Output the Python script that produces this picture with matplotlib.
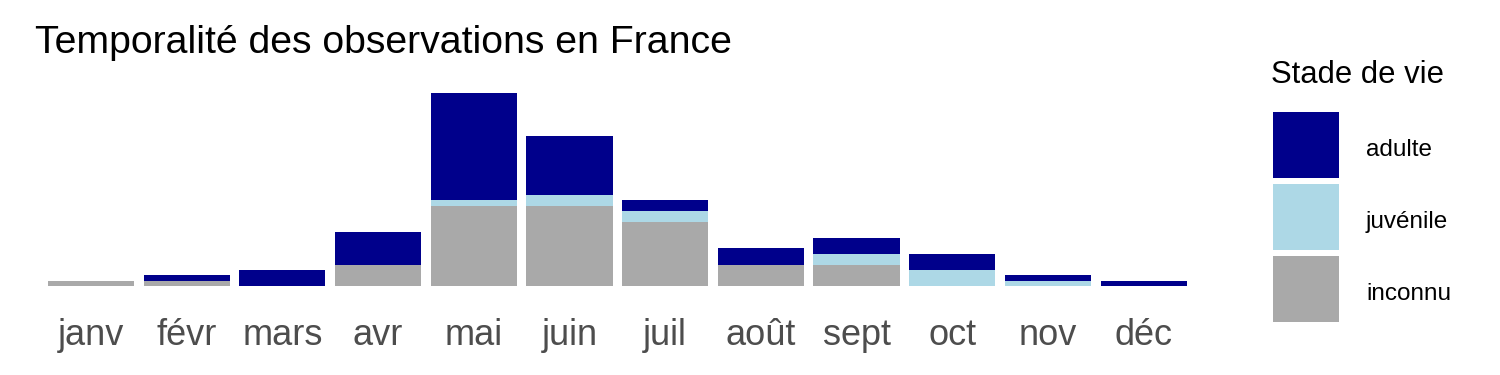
import matplotlib.pyplot as plt
import numpy as np
from matplotlib.patches import Rectangle

plt.rcParams['font.family'] = ['Liberation Sans', 'DejaVu Sans']

mois = ["janv", "févr", "mars", "avr", "mai", "juin", "juil", "août", "sept", "oct", "nov", "déc"]
inconnu = [1, 1, 0, 4, 15, 15, 12, 4, 4, 0, 0, 0]
juvenile = [0, 0, 0, 0, 1, 2, 2, 0, 2, 3, 1, 0]
adulte = [0, 1, 3, 6, 20, 11, 2, 3, 3, 3, 1, 1]

stades = ["adulte", "juvénile", "inconnu"]
couleurs = {"adulte": "#00008B", "juvénile": "#ADD8E6", "inconnu": "#A9A9A9"}

fig = plt.figure(figsize=(15, 3.75), dpi=100)
ax = fig.add_axes([33.6 / 1500, 1 - 295.6 / 375, (1201 - 33.6) / 1500, (295.6 - 83.4) / 375])

x = np.arange(len(mois))
bas = np.zeros(len(mois))
for nom, vals in [("inconnu", inconnu), ("juvénile", juvenile), ("adulte", adulte)]:
    ax.bar(x, vals, bottom=bas, width=0.9, color=couleurs[nom], linewidth=0)
    bas = bas + np.array(vals)

total = bas.max()
ax.set_xlim(-0.6, len(mois) - 0.4)
ax.set_ylim(-0.05 * total, total * 1.05)
ax.set_xticks(x)
ax.set_xticklabels(mois, fontsize=26, color="#4D4D4D")
ax.tick_params(axis="x", length=0, pad=16)
ax.set_yticks([])
for s in ax.spines.values():
    s.set_visible(False)

fig.text(35 / 1500, 1 - 53 / 375, "Temporalité des observations en France", fontsize=28.3, color="black", ha="left", va="baseline")

# légende
leg = fig.add_axes([0, 0, 1, 1], facecolor="none")
leg.set_xlim(0, 1500)
leg.set_ylim(375, 0)
leg.axis("off")
leg.text(1271, 83, "Stade de vie", fontsize=22.3, ha="left", va="baseline")
for i, nom in enumerate(stades):
    y0 = 112 + i * 72
    leg.add_patch(Rectangle((1273, y0), 66, 66, color=couleurs[nom], linewidth=0))
    leg.text(1366, y0 + 38, nom, fontsize=17.5, ha="left", va="center")

fig.savefig("out.png", dpi=100)
